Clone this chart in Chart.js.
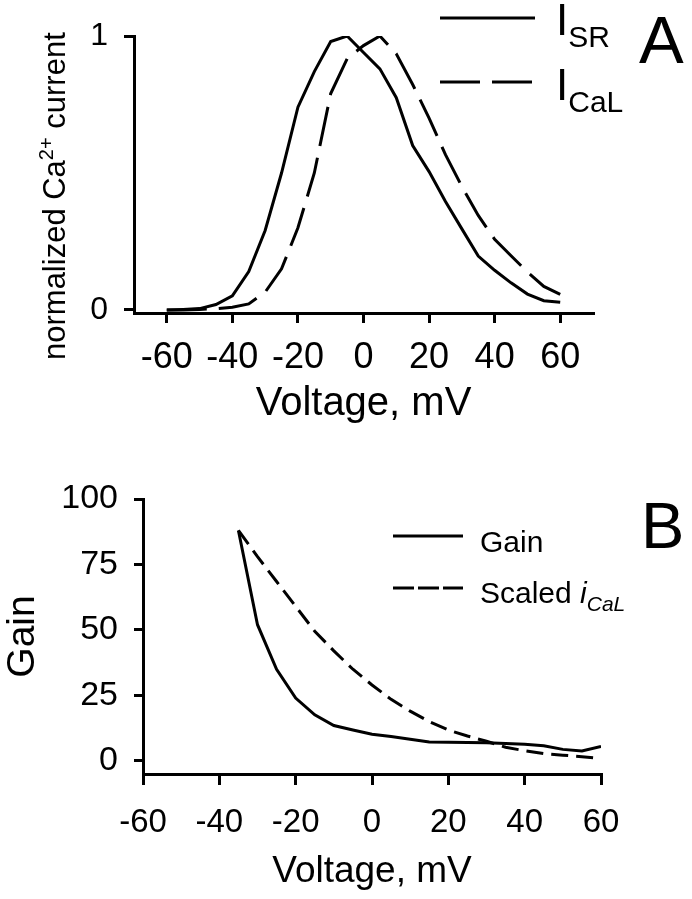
<!DOCTYPE html>
<html>
<head>
<meta charset="utf-8">
<script src="https://cdn.jsdelivr.net/npm/chart.js@4"></script>
<style>
  body { margin: 0; background: #fff; }
  #wrap { position: relative; width: 692px; height: 899px; }
  canvas { position: absolute; left: 0; }
  #chartA { top: 0; }
  #chartB { top: 450px; }
</style>
</head>
<body>
<div id="wrap">
  <canvas id="chartA" width="692" height="450"></canvas>
  <canvas id="chartB" width="692" height="449"></canvas>
</div>
<script>
// Panel A: normalized Ca2+ currents
const voltA = [-60, -55, -50, -45, -40, -35, -30, -25, -20, -15, -10, -5, 0, 5, 10, 15, 20, 25, 30, 35, 40, 45, 50, 55, 60];
const iSR = [0, 0.002, 0.005, 0.02, 0.052, 0.14, 0.29, 0.5, 0.74, 0.87, 0.98, 1.0, 0.94, 0.88, 0.775, 0.6, 0.505, 0.396, 0.296, 0.197, 0.145, 0.099, 0.058, 0.034, 0.028];
const iCaL = [0, 0, 0.002, 0.005, 0.01, 0.022, 0.065, 0.15, 0.3, 0.5, 0.79, 0.917, 0.965, 1.0, 0.935, 0.823, 0.70, 0.567, 0.451, 0.345, 0.258, 0.198, 0.139, 0.086, 0.057];
const xTicksA = [-60, -40, -20, 0, 20, 40, 60];
const yTicksA = [0, 1];

// Panel B: gain
const voltB = [-35, -30, -25, -20, -15, -10, -5, 0, 5, 10, 15, 20, 25, 30, 35, 40, 45, 50, 55, 60];
const gain = [88, 52, 35, 24, 17.6, 13.5, 11.8, 10.2, 9.3, 8.3, 7.2, 7.1, 7.0, 6.9, 6.6, 6.4, 5.8, 4.4, 3.8, 5.5];
const scaledICaL = [88, 78, 68.5, 59, 49.5, 42, 35, 29, 23.5, 19, 15, 11.8, 9.5, 7.5, 5.2, 3.9, 2.8, 2.2, 1.6, 1];
const xTicksB = [-60, -40, -20, 0, 20, 40, 60];
const yTicksB = [0, 25, 50, 75, 100];

const FONT = "'Liberation Sans', Arial, sans-serif";

function pts(xs, ys) {
  return xs.map((x, i) => ({ x: x, y: ys[i] }));
}

function axisLines(tickLength) {
  return {
    grid: { drawOnChartArea: false, color: '#000', lineWidth: 3, tickLength: tickLength, tickWidth: 3, tickColor: '#000' },
    border: { display: true, color: '#000', width: 3 },
  };
}

// draws text pieces in a row: [text, size, dy, italic]
function drawRich(ctx, x, y, parts) {
  let cx = x;
  parts.forEach(([t, size, dy, italic]) => {
    ctx.font = (italic ? 'italic ' : '') + size + 'px ' + FONT;
    ctx.fillText(t, cx, y + dy);
    cx += ctx.measureText(t).width;
  });
}

document.addEventListener('DOMContentLoaded', () => {
  Chart.defaults.font.family = FONT;
  Chart.defaults.color = '#000';

  // Panel A
  const decorA = {
    id: 'decorA',
    afterDraw(chart) {
      const ctx = chart.ctx;
      ctx.save();
      ctx.fillStyle = '#000';
      ctx.strokeStyle = '#000';
      ctx.textBaseline = 'alphabetic';
      ctx.textAlign = 'left';
      // legend
      ctx.lineWidth = 3;
      ctx.beginPath(); ctx.moveTo(440, 18); ctx.lineTo(535, 18); ctx.stroke();
      ctx.setLineDash([40, 12]);
      ctx.beginPath(); ctx.moveTo(440, 82); ctx.lineTo(535, 82); ctx.stroke();
      ctx.setLineDash([]);
      drawRich(ctx, 556, 35, [['I', 44, 0], ['SR', 30, 12]]);
      drawRich(ctx, 556, 100, [['I', 44, 0], ['CaL', 30, 12]]);
      // panel letter
      ctx.font = '67px ' + FONT;
      ctx.fillText('A', 639, 63);
      // y title with superscript
      ctx.translate(65, 360);
      ctx.rotate(-Math.PI / 2);
      drawRich(ctx, 0, 0, [['normalized Ca', 31, 0], ['2+', 20, -12], [' current', 31, 0]]);
      ctx.restore();
    }
  };

  new Chart(document.getElementById('chartA').getContext('2d'), {
    type: 'line',
    data: {
      datasets: [
        { label: 'ISR', data: pts(voltA, iSR), borderColor: '#000', borderWidth: 3, pointRadius: 0, tension: 0 },
        { label: 'ICaL', data: pts(voltA, iCaL), borderColor: '#000', borderWidth: 3, pointRadius: 0, tension: 0, borderDash: [40, 12] },
      ],
    },
    options: {
      responsive: false,
      animation: false,
      layout: { padding: { top: 36, right: 99, left: 0, bottom: 0 } },
      plugins: { legend: { display: false }, tooltip: { enabled: false } },
      scales: {
        x: {
          type: 'linear', min: -70, max: 70,
          afterBuildTicks: (s) => { s.ticks = xTicksA.map(v => ({ value: v })); },
          afterFit: (s) => { s.height = 137; },
          ...axisLines(10),
          ticks: { font: { size: 36 }, padding: 13, maxRotation: 0, autoSkip: false },
          title: { display: true, text: 'Voltage, mV', font: { size: 40 }, padding: { top: 0, bottom: 22 } },
        },
        y: {
          type: 'linear', min: -0.011, max: 1,
          afterBuildTicks: (s) => { s.ticks = yTicksA.map(v => ({ value: v })); },
          afterFit: (s) => { s.width = 134; },
          ...axisLines(10),
          ticks: { font: { size: 32 }, padding: 16 },
        },
      },
    },
    plugins: [decorA],
  });

  // Panel B
  const decorB = {
    id: 'decorB',
    afterDraw(chart) {
      const ctx = chart.ctx;
      ctx.save();
      ctx.fillStyle = '#000';
      ctx.strokeStyle = '#000';
      ctx.textBaseline = 'alphabetic';
      ctx.textAlign = 'left';
      ctx.lineWidth = 3;
      ctx.beginPath(); ctx.moveTo(393, 86); ctx.lineTo(463, 86); ctx.stroke();
      ctx.setLineDash([21, 4]);
      ctx.beginPath(); ctx.moveTo(393, 138); ctx.lineTo(463, 138); ctx.stroke();
      ctx.setLineDash([]);
      drawRich(ctx, 480, 102, [['Gain', 30, 0]]);
      drawRich(ctx, 480, 153, [['Scaled ', 30, 0], ['i', 30, 0, true], ['CaL', 21, 8, true]]);
      ctx.font = '65px ' + FONT;
      ctx.fillText('B', 641, 98);
      ctx.restore();
    }
  };

  new Chart(document.getElementById('chartB').getContext('2d'), {
    type: 'line',
    data: {
      datasets: [
        { label: 'Gain', data: pts(voltB, gain), borderColor: '#000', borderWidth: 3, pointRadius: 0, tension: 0 },
        { label: 'Scaled iCaL', data: pts(voltB, scaledICaL), borderColor: '#000', borderWidth: 3, pointRadius: 0, tension: 0, borderDash: [17, 8] },
      ],
    },
    options: {
      responsive: false,
      animation: false,
      layout: { padding: { top: 49, right: 91, left: 0, bottom: 0 } },
      plugins: { legend: { display: false }, tooltip: { enabled: false } },
      scales: {
        x: {
          type: 'linear', min: -60, max: 60,
          afterBuildTicks: (s) => { s.ticks = xTicksB.map(v => ({ value: v })); },
          afterFit: (s) => { s.height = 125; },
          ...axisLines(11),
          ticks: { font: { size: 33 }, padding: 18, maxRotation: 0, autoSkip: false },
          title: { display: true, text: 'Voltage, mV', font: { size: 37 }, padding: { top: 0, bottom: 5 } },
        },
        y: {
          type: 'linear', min: -5, max: 100,
          afterBuildTicks: (s) => { s.ticks = yTicksB.map(v => ({ value: v })); },
          afterFit: (s) => { s.width = 143; },
          ...axisLines(9),
          ticks: { font: { size: 34 }, padding: 16 },
          title: { display: true, text: 'Gain', font: { size: 39 }, padding: { top: 0, bottom: 0 } },
        },
      },
    },
    plugins: [decorB],
  });
});
</script>
</body>
</html>
